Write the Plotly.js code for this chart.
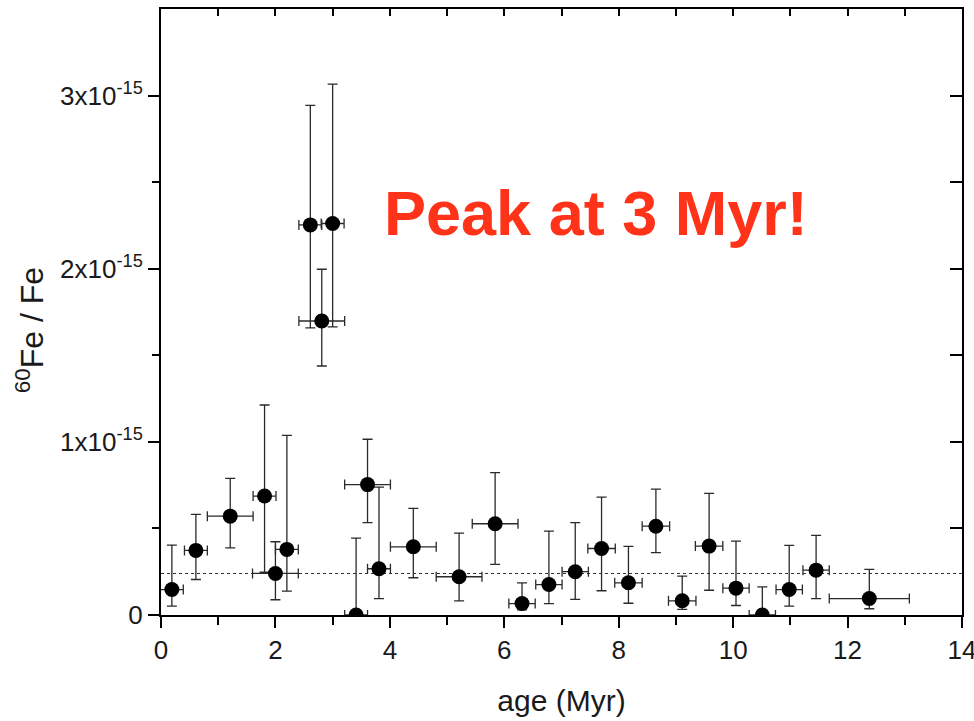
<!DOCTYPE html>
<html>
<head>
<meta charset="utf-8">
<script src="https://cdn.plot.ly/plotly-3.0.1.min.js"></script>
<style>html,body{margin:0;padding:0;background:#fff;}#chart{width:974px;height:721px;}</style>
</head>
<body>
<div id="chart"></div>
<script>
// age in Myr, 60Fe/Fe ratio in units of 1e-15
const age = [0.19, 0.61, 1.21, 1.81, 2.00, 2.20, 2.61, 2.81, 3.00, 3.41, 3.61, 3.81, 4.41, 5.21, 5.84, 6.31, 6.78, 7.24, 7.70, 8.17, 8.65, 9.11, 9.58, 10.05, 10.51, 10.98, 11.45, 12.38];
const ageErr = [0.2, 0.2, 0.4, 0.2, 0.4, 0.2, 0.2, 0.4, 0.2, 0.2, 0.4, 0.2, 0.4, 0.4, 0.4, 0.23, 0.23, 0.23, 0.24, 0.24, 0.24, 0.24, 0.24, 0.23, 0.23, 0.23, 0.23, 0.7];
const ratio = [0.147, 0.373, 0.571, 0.687, 0.240, 0.379, 2.253, 1.698, 2.261, 0.0, 0.753, 0.267, 0.394, 0.221, 0.527, 0.066, 0.176, 0.250, 0.384, 0.186, 0.513, 0.082, 0.398, 0.155, 0.0, 0.147, 0.259, 0.095];
const ratioErrPlus = [0.256, 0.208, 0.218, 0.526, 0.183, 0.659, 0.690, 0.299, 0.805, 0.444, 0.262, 0.472, 0.222, 0.252, 0.295, 0.120, 0.308, 0.283, 0.297, 0.210, 0.214, 0.142, 0.304, 0.272, 0.163, 0.255, 0.201, 0.168];
const ratioErrMinus = [0.096, 0.168, 0.183, 0.440, 0.152, 0.241, 0.595, 0.260, 0.597, 0.0, 0.220, 0.172, 0.179, 0.139, 0.235, 0.036, 0.110, 0.160, 0.244, 0.118, 0.153, 0.050, 0.255, 0.100, 0.0, 0.096, 0.165, 0.059];
const baselineX = [0, 14];
const baselineY = [0.24, 0.24];
const yTickVals = [0, 1, 2, 3];
const yTickText = ['0', '1x10<sup>-15</sup>', '2x10<sup>-15</sup>', '3x10<sup>-15</sup>'];
const xTitle = 'age (Myr)';
const yTitle = '<sup>60</sup>Fe / Fe';
const annotationText = 'Peak at 3 Myr!';

const FONT = 'Liberation Sans, Arial, Helvetica, sans-serif';
const errStyle = {color: '#2a2a2a', thickness: 1.3, width: 5};

const traces = [
  {
    x: baselineX, y: baselineY, type: 'scatter', mode: 'lines',
    line: {color: '#333', width: 1.1, dash: '3px,3px'}, hoverinfo: 'skip', showlegend: false
  },
  {
    x: age, y: ratio, type: 'scatter', mode: 'markers',
    marker: {color: '#000', size: 15, line: {width: 0}},
    error_x: Object.assign({type: 'data', array: ageErr, symmetric: true}, errStyle),
    error_y: Object.assign({type: 'data', array: ratioErrPlus, arrayminus: ratioErrMinus, symmetric: false}, errStyle),
    showlegend: false
  },
  {
    x: [null], y: [null], xaxis: 'x2', yaxis: 'y2', type: 'scatter', mode: 'markers', showlegend: false, hoverinfo: 'skip'
  }
];

const axisCommon = {showgrid: false, zeroline: false, showline: true, linecolor: '#000', linewidth: 2, tickcolor: '#000', tickwidth: 2};

const layout = {
  width: 974, height: 721,
  margin: {l: 161, r: 12, t: 9, b: 106},
  paper_bgcolor: '#fff', plot_bgcolor: '#fff',
  font: {family: FONT, color: '#1a1a1a'},
  xaxis: Object.assign({}, axisCommon, {
    range: [0, 14], dtick: 2, tick0: 0, ticks: 'outside', ticklen: 11,
    ticklabeloverflow: 'allow',
    minor: {dtick: 1, ticks: 'outside', ticklen: 8, tickwidth: 2, tickcolor: '#000', showgrid: false},
    tickfont: {family: FONT, size: 26, color: '#1a1a1a'},
    title: {text: xTitle, font: {family: FONT, size: 30, color: '#1a1a1a'}, standoff: 26}
  }),
  yaxis: Object.assign({}, axisCommon, {
    range: [0, 3.5], tickvals: yTickVals, ticktext: yTickText, ticks: 'outside', ticklen: 11,
    minor: {tickvals: [0.5, 1.5, 2.5], ticks: 'outside', ticklen: 7, tickwidth: 2, tickcolor: '#000', showgrid: false},
    tickfont: {family: FONT, size: 26, color: '#1a1a1a'}
  }),
  xaxis2: Object.assign({}, axisCommon, {
    overlaying: 'x', side: 'top', anchor: 'y2', range: [0, 14], dtick: 1, tick0: 0,
    ticks: 'inside', ticklen: 7, showticklabels: false
  }),
  yaxis2: Object.assign({}, axisCommon, {
    overlaying: 'y', side: 'right', anchor: 'x2', range: [0, 3.5], dtick: 0.5, tick0: 0,
    ticks: 'inside', ticklen: 12, showticklabels: false
  }),
  annotations: [
    {
      text: annotationText, x: 7.6, y: 2.32, xref: 'x', yref: 'y', showarrow: false,
      xanchor: 'center', yanchor: 'middle',
      font: {family: FONT, size: 63, color: '#ff3319', weight: 'bold'}
    },
    {
      text: yTitle, x: -0.1635, y: 0.47, xref: 'paper', yref: 'paper', showarrow: false,
      textangle: -90, xanchor: 'center', yanchor: 'middle',
      font: {family: FONT, size: 32, color: '#1a1a1a'}
    }
  ]
};

Plotly.newPlot('chart', traces, layout, {displayModeBar: false, staticPlot: true});
</script>
</body>
</html>
